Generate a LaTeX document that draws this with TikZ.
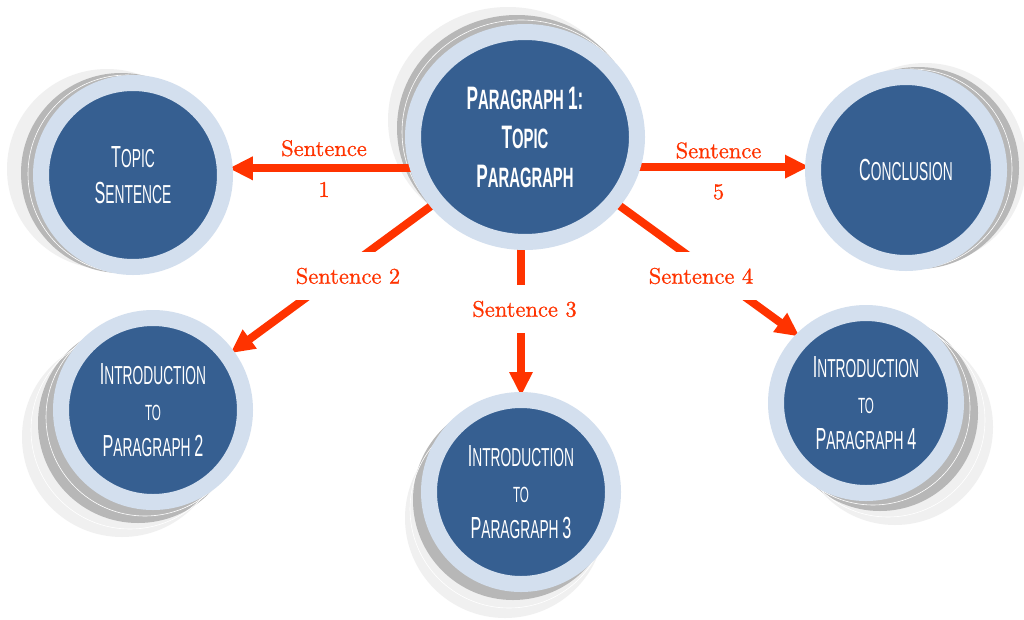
\documentclass[tikz,border=0pt]{standalone}
\usepackage{fontspec}
\usetikzlibrary{arrows.meta,shapes.geometric,backgrounds}
\pgfdeclarelayer{bottom}
\pgfsetlayers{bottom,background,main}
\newfontfamily\agency[FakeStretch=0.53]{Liberation Sans}
\newfontfamily\labfont[FakeBold=0.9]{lmroman10-regular.otf}
\definecolor{dkblue}{RGB}{54,95,145}
\definecolor{ltring}{RGB}{211,223,238}
\definecolor{shgrey}{RGB}{183,183,183}
\definecolor{shlight}{RGB}{240,240,240}
\definecolor{arrred}{RGB}{255,51,0}
\newcommand\Sc[2]{{\fontsize{30.5}{36}\selectfont #1}{\fontsize{26}{36}\selectfont #2}}
\newcommand\ScB[2]{{\fontsize{32.5}{39}\selectfont #1}{\fontsize{28}{39}\selectfont #2}}
\newcommand\ScTo{{\fontsize{22}{36}\selectfont TO}}
\tikzset{
  bubble/.style={circle, fill=dkblue, draw=ltring, line width=16pt, inner sep=0pt,
    outer sep=4pt, minimum size=184pt, text=white, align=center,
    font=\agency\fontsize{26}{36}\selectfont},
  bigbubble/.style={ellipse, fill=dkblue, draw=ltring, line width=16pt, inner sep=0pt,
    outer sep=4pt, minimum width=224pt, minimum height=210pt, text=white, align=center,
    font=\agency\bfseries\fontsize{28}{39}\selectfont},
  arr/.style={draw=arrred, line width=8pt, -{Triangle[length=24pt,width=22pt]}},
  labgap/.style={text=arrred, font=\labfont\fontsize{22.5}{27}\selectfont, fill=white,
    minimum height=48pt, inner xsep=8pt, inner ysep=0pt},
  labtxt/.style={text=arrred, font=\labfont\fontsize{22.5}{27}\selectfont, align=center, inner sep=0pt},
  shlt/.style={fill=shlight},
  shgr/.style={fill=shgrey},
  shline/.style={draw=white, line width=0.6pt}
}
\begin{document}
\begin{tikzpicture}[x=1pt,y=-1pt]
\useasboundingbox (0,0) rectangle (1024,619);
\begin{pgfonlayer}{bottom}
  \fill[white] (0,0) rectangle (1024,619);
\end{pgfonlayer}

% circles
\node[bigbubble] (p1) at (525,137) {\ScB{P}{ARAGRAPH} \ScB{1:}{}\\\ScB{T}{OPIC}\\\ScB{P}{ARAGRAPH}};
\node[bubble] (ts) at (133,175) {\Sc{T}{OPIC}\\\Sc{S}{ENTENCE}};
\node[bubble, minimum size=186pt] (cn) at (906,170) {\Sc{C}{ONCLUSION}};
\node[bubble] (i2) at (153,410) {\Sc{I}{NTRODUCTION}\\\ScTo\\\Sc{P}{ARAGRAPH} \Sc{2}{}};
\node[bubble] (i3) at (521,492) {\Sc{I}{NTRODUCTION}\\\ScTo\\\Sc{P}{ARAGRAPH} \Sc{3}{}};
\node[bubble, minimum size=180pt] (i4) at (866,403) {\Sc{I}{NTRODUCTION}\\\ScTo\\\Sc{P}{ARAGRAPH} \Sc{4}{}};

\begin{scope}[on background layer]
  % shadows
  \fill[shlt] (508,120) ellipse [x radius=120pt, y radius=113pt];
  \fill[shgr] (517,128) ellipse [x radius=120pt, y radius=113pt];
  \draw[shline] (521,132) ellipse [x radius=119pt, y radius=112pt];
  \fill[shlt] (107,169) circle [radius=100pt];
  \fill[shgr] (121,173) circle [radius=100pt];
  \draw[shline] (127,174) circle [radius=99pt];
  \fill[shlt] (925,164) circle [radius=101pt];
  \fill[shgr] (918,168) circle [radius=101pt];
  \draw[shline] (912,169) circle [radius=100pt];
  \fill[shlt] (122,437) circle [radius=100pt];
  \fill[shgr] (138,423) circle [radius=100pt];
  \draw[shline] (130,430) circle [radius=99pt];
  \draw[shline] (145,417) circle [radius=99pt];
  \fill[shlt] (505,518) circle [radius=100pt];
  \fill[shgr] (513,500) circle [radius=100pt];
  \draw[shline] (509,509) circle [radius=99pt];
  \fill[shlt] (895,427) circle [radius=98pt];
  \fill[shgr] (880,413) circle [radius=98pt];
  \draw[shline] (888,420) circle [radius=97pt];
  \draw[shline] (873,408) circle [radius=97pt];
  % arrows
  \draw[arr] (p1.center |- ts.4) -- (ts.4);
  \draw[arr] (p1.center |- cn.178) -- (cn.178);
  \draw[arr] (p1.center) -- (i2);
  \draw[arr] (p1.center -| i3.north) -- (i3.north);
  \draw[arr] (p1.center) -- (i4.135);
  % labels
  \node[labtxt] (l1) at (324,168.5) {Sentence\\[14pt]1};
  \node[labtxt] (l5) at (718.5,171) {Sentence\\[14pt]5};
  \node[labgap] (l2) at (348,276) {Sentence 2};
  \node[labgap] (l3) at (524.5,309) {Sentence 3};
  \node[labgap] (l4) at (701,276) {Sentence 4};
\end{scope}
\end{tikzpicture}
\end{document}
